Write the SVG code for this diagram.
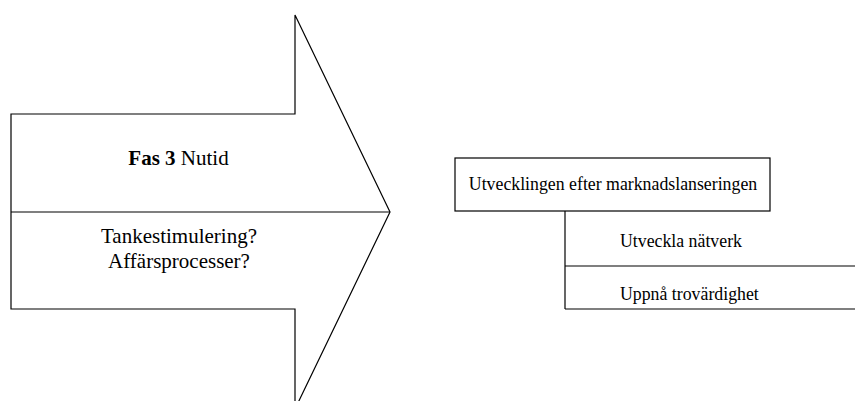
<svg xmlns="http://www.w3.org/2000/svg" width="855" height="401" viewBox="0 0 855 401">
  <style>
    .shape { fill: #fff; stroke: #000; stroke-width: 1.2; }
    .line { fill: none; stroke: #000; stroke-width: 1.2; }
    .t { font-family: "Liberation Serif", "Times New Roman", serif; fill: #000; }
    .big { font-size: 21px; }
    .small { font-size: 17.8px; }
  </style>
  <rect width="855" height="401" fill="#fff"/>

  <!-- Phase arrow -->
  <g id="phase-arrow">
    <polygon class="shape" points="11,114 295,114 295,15 390,212 295,409 295,309 11,309"/>
    <line class="line" x1="11" y1="212" x2="390" y2="212"/>
    <text class="t big" x="178.5" y="165" text-anchor="middle"><tspan font-weight="bold">Fas 3</tspan> Nutid</text>
    <text class="t big" x="179" y="243" text-anchor="middle">Tankestimulering?</text>
    <text class="t big" x="179" y="268" text-anchor="middle">Affärsprocesser?</text>
  </g>

  <!-- Heading box -->
  <g id="heading">
    <rect class="shape" x="455" y="158" width="315" height="53"/>
    <text class="t small" x="613" y="190" text-anchor="middle">Utvecklingen efter marknadslanseringen</text>
  </g>

  <!-- Connectors -->
  <g id="connectors">
    <line class="line" x1="565" y1="211" x2="565" y2="309"/>
  </g>

  <!-- Sub items -->
  <g id="item-network">
    <line class="line" x1="565" y1="266" x2="855" y2="266"/>
    <text class="t small" x="620" y="247">Utveckla nätverk</text>
  </g>
  <g id="item-credibility">
    <line class="line" x1="565" y1="309" x2="855" y2="309"/>
    <text class="t small" x="620" y="300">Uppnå trovärdighet</text>
  </g>
</svg>
